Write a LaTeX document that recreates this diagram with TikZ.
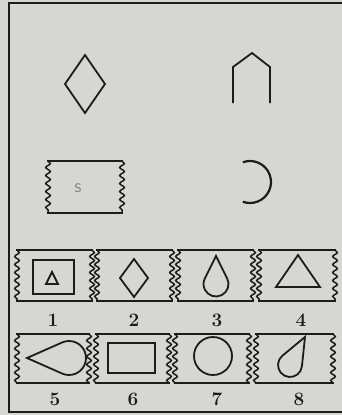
\documentclass[tikz,border=0pt]{standalone}
\usepackage{tikz}
\usetikzlibrary{decorations.pathmorphing}
\definecolor{paper}{HTML}{D6D6D2}
\definecolor{ink}{HTML}{1C1C1C}
\definecolor{pencil}{HTML}{8C8C8C}
\tikzset{
  figline/.style={draw=ink,line width=1.8pt,line join=miter},
  rimline/.style={draw=ink,line width=2.2pt,line cap=butt},
  wavy/.style={draw=ink,line width=1.5pt,decorate,decoration={snake,segment length=8pt,amplitude=2.3pt}},
  numlabel/.style={font=\bfseries\fontsize{19}{20}\selectfont,text=ink,inner sep=0pt},
}
% stamp: x1 y1 x2 y2 (straight top and bottom, wavy sides)
\newcommand\stamp[4]{%
  \draw[rimline] (#1-1,#2) -- (#3+1,#2);
  \draw[rimline] (#1-1,#4) -- (#3+1,#4);
  \draw[wavy] (#1,#2) -- (#1,#4);
  \draw[wavy] (#3,#2) -- (#3,#4);
}
\begin{document}
\begin{tikzpicture}[x=1pt,y=-1pt]
  \fill[paper] (0,0) rectangle (342,415);
  \useasboundingbox (0,0) rectangle (342,415);
  % frame
  \draw[rimline] (342,3) -- (9,3) -- (9,412) -- (342,412);

  % top left: diamond
  \draw[figline] (85,55) -- (105,84) -- (85,113) -- (65,84) -- cycle;
  % top right: open house
  \draw[figline] (233,103) -- (233,67) -- (252,53) -- (270,67) -- (270,103);
  % middle left: stamp with pencil mark
  \stamp{48}{161}{122}{213}
  \node[text=pencil,font=\sffamily\fontsize{20}{20}\selectfont] (mark) at (78,188) {s};
  % middle right: arc
  \draw[figline,line width=2.2pt] ([shift={(250,182)}]-110:21) arc[start angle=-110,end angle=110,radius=21];

  % answer row 1
  \stamp{17}{250}{92}{301}
  \stamp{97}{250}{172}{301}
  \stamp{178}{250}{253}{301}
  \stamp{259}{250}{335}{301}
  \draw[figline] (33,260) rectangle (74,294);
  \draw[figline] (52,272) -- (58,284) -- (46,284) -- cycle;
  \draw[figline] (134,259) -- (148,278) -- (134,297) -- (120,278) -- cycle;
  \draw[figline] (216,256) -- ([shift={(216,284)}]-26.5:12.5) arc[start angle=-26.5,end angle=206.5,radius=12.5] -- cycle;
  \draw[figline] (298,255) -- (320,287) -- (276,287) -- cycle;

  % answer row 2
  \stamp{17}{334}{89}{383}
  \stamp{96}{334}{169}{383}
  \stamp{175}{334}{249}{383}
  \stamp{256}{334}{333}{383}
  \draw[figline] (27,358) -- ([shift={(69,358)}]113.9:17) arc[start angle=113.9,end angle=-113.9,radius=17] -- cycle;
  \draw[figline] (108,343) rectangle (155,373);
  \draw[figline] (213,356) circle[radius=19];
  \draw[figline] (305,337) -- ([shift={(290,365)}]6:12) arc[start angle=6,end angle=230.4,radius=12] -- cycle;

  % numbers
  \foreach \n/\x/\y in {1/53/320,2/134/320,3/217/320,4/301/320,5/55/399,6/133/399,7/217/399,8/299/399}
    \node[numlabel] (lab\n) at (\x,\y) {\n};
\end{tikzpicture}
\end{document}
